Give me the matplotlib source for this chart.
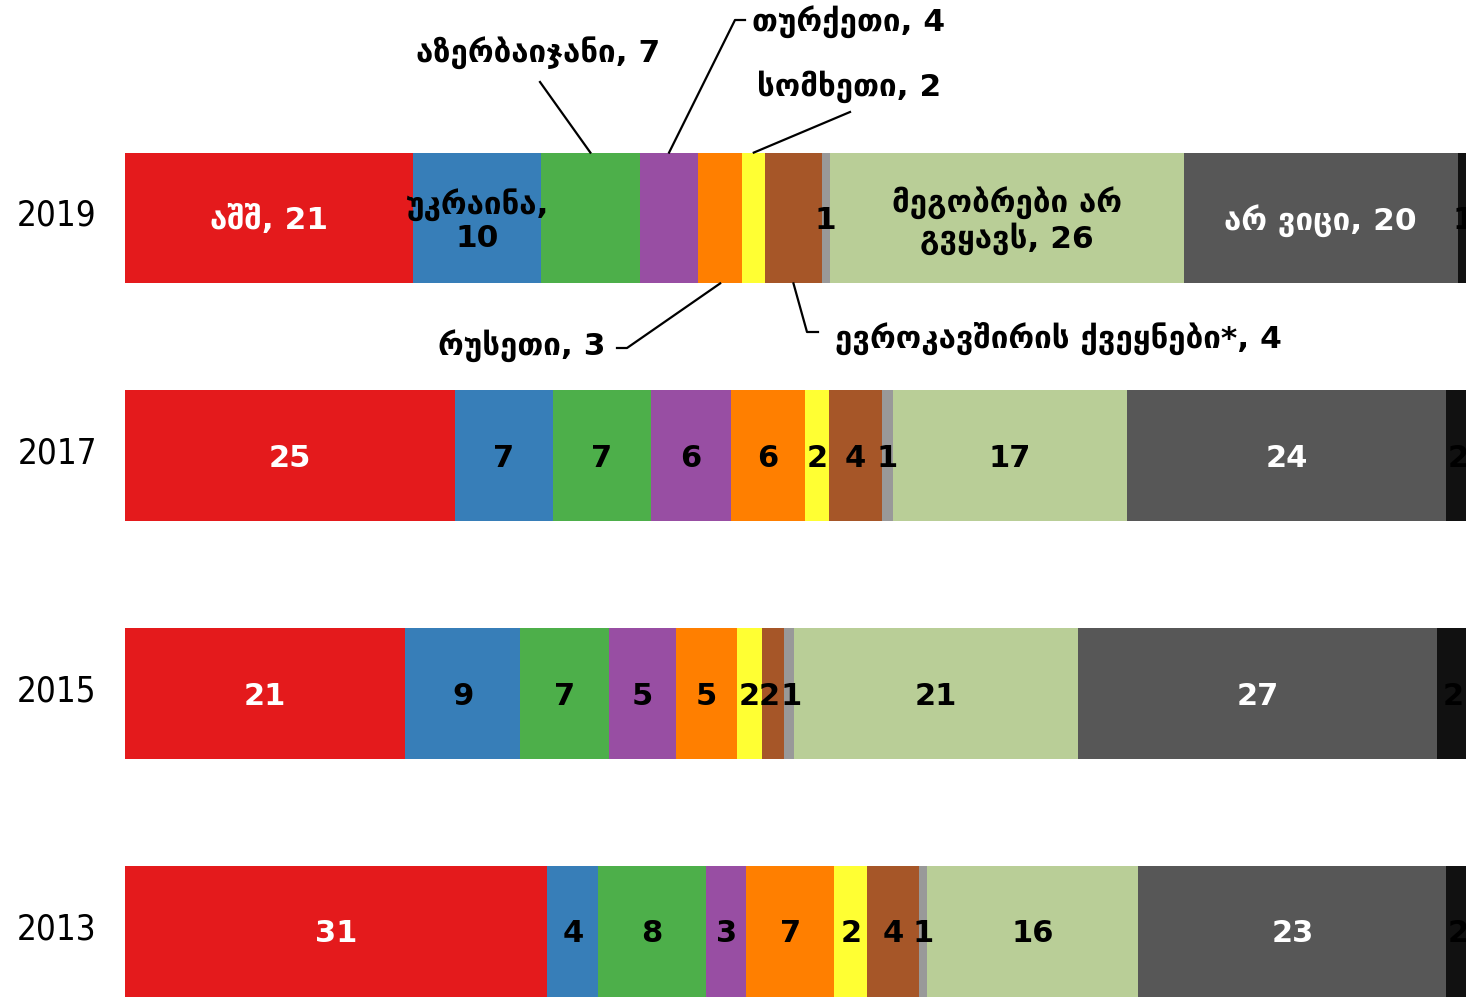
# stacked horizontal bars: friendly countries of Georgia by survey year
import matplotlib
matplotlib.use("Agg")
import matplotlib.pyplot as plt

plt.rcParams['font.family'] = ['DejaVu Sans']

years = ['2019', '2017', '2015', '2013']
categories = ['აშშ', 'უკრაინა', 'აზერბაიჯანი', 'თურქეთი', 'რუსეთი', 'სომხეთი',
              'ევროკავშირის ქვეყნები*', 'სხვა', 'მეგობრები არ გვყავს', 'არ ვიცი',
              'უარი პასუხზე']
colors = ['#E41A1C', '#377EB8', '#4DAF4A', '#984EA3', '#FF7F00', '#FFFF33',
          '#A65628', '#999999', '#B9CE97', '#575757', '#111111']
text_colors = ['white', 'black', 'black', 'black', 'black', 'black',
               'black', 'black', 'black', 'white', 'black']

values_2019 = [21.4, 9.5, 7.4, 4.3, 3.3, 1.7, 4.2, 0.6, 26.3, 20.4, 0.8]
labels_2019 = [21, 10, 7, 4, 3, 2, 4, 1, 26, 20, 1]
values_2017 = [24.5, 7.3, 7.3, 5.95, 5.5, 1.8, 3.95, 0.8, 17.4, 23.7, 1.8]
labels_2017 = [25, 7, 7, 6, 6, 2, 4, 1, 17, 24, 2]
values_2015 = [20.8, 8.6, 6.55, 5.0, 4.55, 1.85, 1.65, 0.75, 21.1, 26.7, 2.45]
labels_2015 = [21, 9, 7, 5, 5, 2, 2, 1, 21, 27, 2]
values_2013 = [31.4, 3.8, 8.0, 3.0, 6.55, 2.45, 3.8, 0.65, 15.7, 22.9, 1.8]
labels_2013 = [31, 4, 8, 3, 7, 2, 4, 1, 16, 23, 2]

rows = [values_2019, values_2017, values_2015, values_2013]
row_labels = [labels_2019, labels_2017, labels_2015, labels_2013]

W, H = 1466, 997
X0 = 125          # left edge of bars in pixels
SCALE = 13.45     # pixels per percent
ROW0 = 218        # centre of first bar in pixels
STEP = 237.83     # pixels between bars
BAR_H = 0.55
FS = 22.5         # georgian label size


def px(x, y):
    """pixel position -> data coords"""
    return (x - X0) / SCALE, (y - ROW0) / STEP


fig = plt.figure(figsize=(W / 100, H / 100), dpi=100)
ax = fig.add_axes([X0 / W, 0, (W - X0) / W, 1])
ax.set_xlim(0, (W - X0) / SCALE)
ax.set_ylim((H - ROW0) / STEP, -ROW0 / STEP)
ax.axis('off')

starts = []
for i, vals in enumerate(rows):
    left = 0
    row_starts = []
    for j, v in enumerate(vals):
        ax.barh(i, v, left=left, height=BAR_H, color=colors[j], linewidth=0)
        row_starts.append(left)
        left += v
    starts.append(row_starts)
    ax.text(px(57, 0)[0], i - 0.01, years[i], ha='center', va='center',
            fontsize=25, fontstretch='condensed', clip_on=False)

# numbers inside bars for 2017, 2015, 2013
for i in range(1, 4):
    for j, v in enumerate(rows[i]):
        x = starts[i][j] + v / 2
        # the two narrow 2015 segments: labels sit side by side, touching
        if i == 2 and j == 6:
            x -= 0.25
        if i == 2 and j == 7:
            x += 0.15
        ax.text(x, i + 0.01, str(row_labels[i][j]),
                ha='center', va='center', fontsize=22, fontweight='bold',
                color=text_colors[j])


def lab(j):
    return categories[j] + ', ' + str(labels_2019[j])


def mid(j):
    return starts[0][j] + values_2019[j] / 2


# 2019: labels inside the bar
inside = {0: lab(0),
          1: 'უკრაინა,\n10',
          7: '1',
          8: 'მეგობრები არ\nგვყავს, 26',
          9: lab(9),
          10: '1'}
for j, s in inside.items():
    ax.text(mid(j), 0.01, s, ha='center', va='center', fontsize=FS,
            fontweight='bold', color=text_colors[j], linespacing=1.15)

top = -BAR_H / 2
bottom = BAR_H / 2
lkw = dict(color='black', lw=1.6, clip_on=False)
tkw = dict(va='center', fontsize=FS, fontweight='bold')

# azerbaijan
ax.plot([mid(2), px(540, 82)[0]], [top, px(540, 82)[1]], **lkw)
ax.text(*px(538, 53), lab(2), ha='center', **tkw)
# turkey
p1, p2 = px(735, 20), px(745, 20)
ax.plot([mid(3), p1[0], p2[0]], [top, p1[1], p2[1]], **lkw)
ax.text(*px(752, 22), lab(3), ha='left', **tkw)
# armenia
p1 = px(850, 112)
ax.plot([mid(5), p1[0]], [top, p1[1]], **lkw)
ax.text(*px(757, 87), lab(5), ha='left', **tkw)
# russia
p1, p2 = px(627, 348), px(617, 348)
ax.plot([mid(4), p1[0], p2[0]], [bottom, p1[1], p2[1]], **lkw)
ax.text(*px(606, 346), lab(4), ha='right', **tkw)
# eu
p1, p2 = px(807, 332), px(818, 332)
ax.plot([mid(6), p1[0], p2[0]], [bottom, p1[1], p2[1]], **lkw)
ax.text(*px(835, 338), lab(6), ha='left', **tkw)

plt.savefig('out.png', dpi=100)
